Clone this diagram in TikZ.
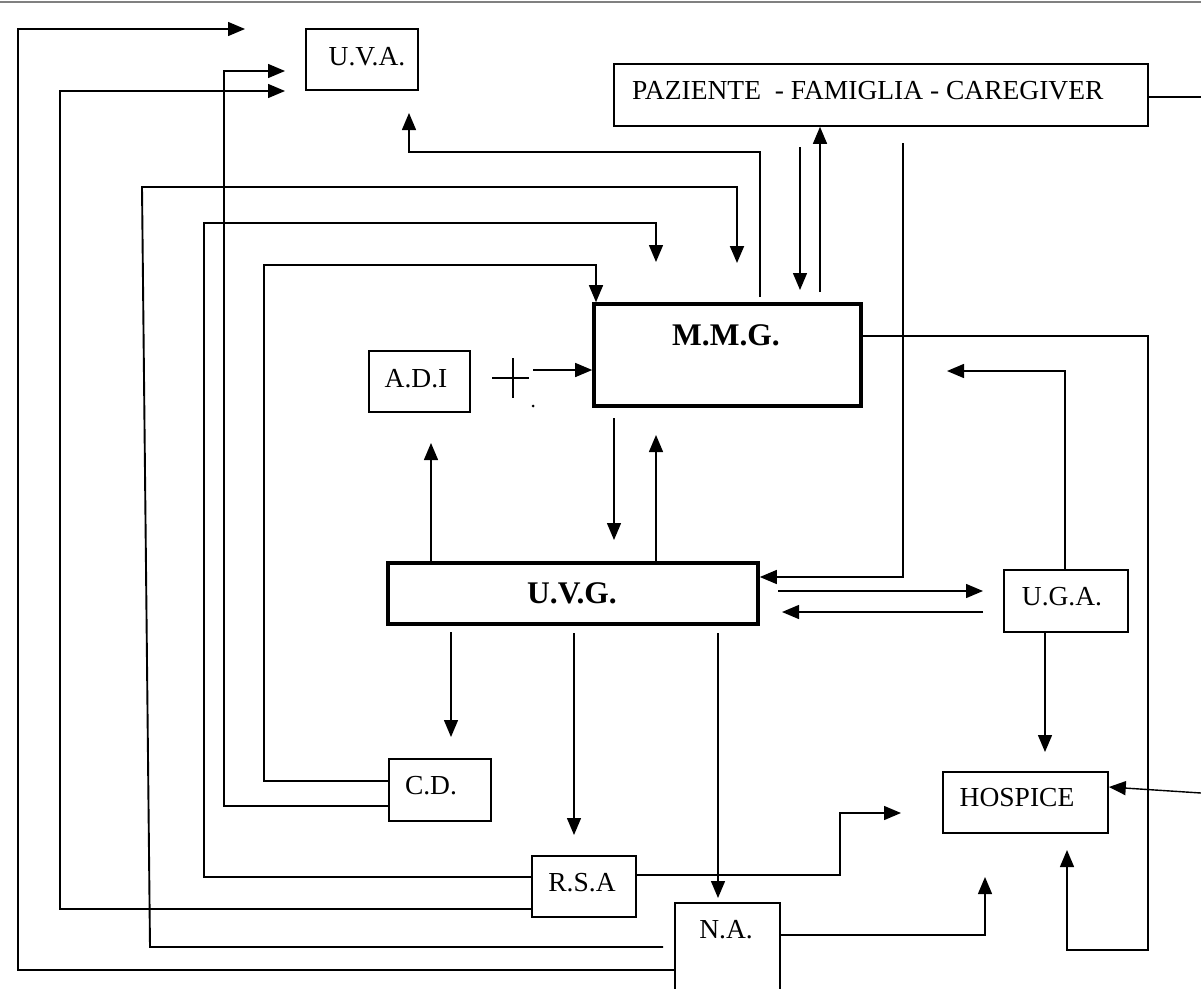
\documentclass[tikz,border=0pt]{standalone}
\usepackage{fontspec}
\setmainfont{Liberation Serif}
\usetikzlibrary{arrows.meta}
\begin{document}
\begin{tikzpicture}[x=1pt,y=-1pt,
  box/.style={draw, line width=1.6pt, inner sep=0pt, rectangle},
  thickbox/.style={draw, line width=3.6pt, inner sep=0pt, rectangle},
  txt/.style={anchor=base, inner sep=0pt, font=\fontsize{27.5}{30}\selectfont},
  btxt/.style={anchor=base, inner sep=0pt, font=\fontsize{31.5}{34}\selectfont\bfseries},
  conn/.style={line width=1.4pt},
  arr/.style={conn, -{Triangle[length=17pt,width=14pt]}},
]
\useasboundingbox (0,0) rectangle (1201,988);
\fill[white] (0,0) rectangle (1201,988);
\clip (0,0) rectangle (1201,988);
\draw[gray, line width=1.5pt] (0,2) -- (1201,2);

% boxes
\node[box, minimum width=112pt, minimum height=61pt] (uva) at (362,59.5) {};
\node[box, minimum width=534pt, minimum height=62pt] (paz) at (881,95) {};
\node[thickbox, minimum width=267pt, minimum height=102pt] (mmg) at (727.5,355) {};
\node[box, minimum width=101pt, minimum height=61pt] (adi) at (419.5,381.5) {};
\node[thickbox, minimum width=370pt, minimum height=61pt] (uvg) at (573,593.5) {};
\node[box, minimum width=124pt, minimum height=62pt] (uga) at (1066,601) {};
\node[box, minimum width=102pt, minimum height=62pt] (cd) at (440,790) {};
\node[box, minimum width=165pt, minimum height=61pt] (hosp) at (1025.5,802.5) {};
\node[box, minimum width=104pt, minimum height=61pt] (rsa) at (584,886.5) {};
\node[box, minimum width=105pt, minimum height=97pt] (na) at (727.5,951.5) {};

% texts
\node[txt] (uvat) at (367,65) {U.V.A.};
\node[txt, anchor=base west] (pazt) at (632,99) {PAZIENTE\ \ - FAMIGLIA - CAREGIVER};
\node[btxt] (mmgt) at (726,345) {M.M.G.};
\node[txt] (adit) at (416,387) {A.D.I};
\node[btxt] (uvgt) at (572,603) {U.V.G.};
\node[txt] (ugat) at (1062,605) {U.G.A.};
\node[txt] (cdt) at (431,794) {C.D.};
\node[txt] (hospt) at (1017,806) {HOSPICE};
\node[txt] (rsat) at (582,891) {R.S.A};
\node[txt] (nat) at (726,938) {N.A.};

% free ends
\coordinate (eA) at (245,29);
\coordinate (eB) at (285,91);
\coordinate (eC) at (285,71);
\coordinate (sD) at (663,947);
\coordinate (eD) at (737,263);
\coordinate (eE) at (656,262);
\coordinate (eUVA) at (409,113);
\coordinate (sUVA) at (760,297);
\coordinate (sPM) at (800,147);
\coordinate (ePM) at (800,290);
\coordinate (sMP) at (820,292);
\coordinate (sPU) at (903,143);
\coordinate (eUM) at (947,371);
\coordinate (eRH) at (901,813);
\coordinate (eNH) at (985,877);
\coordinate (eRight) at (1201,97);
\coordinate (sRight) at (1201,793);

% long loops on the left to U.V.A.
\draw[arr] (na.west |- 0,970) -- (18,970) -- (18,29) -- (eA);
\draw[arr] (rsa.west |- 0,909) -- (60,909) -- (60,91) -- (eB);
\draw[arr] (cd.west |- 0,806) -- (224,806) -- (224,71) -- (eC);

% loops to M.M.G.
\draw[arr, line width=1.9pt] (sD) -- (150,947) -- (142,187) -- (737,187) -- (eD);
\draw[arr] (rsa.west |- 0,877) -- (204,877) -- (204,223) -- (656,223) -- (eE);
\draw[arr] (cd.west |- 0,781) -- (264,781) -- (264,265) -- (596,265) -- (mmg.north west -| 596,0);

% M.M.G. to U.V.A.
\draw[arr] (sUVA) -- (760,152) -- (409,152) -- (eUVA);

% paziente <-> M.M.G.
\draw[arr] (sPM) -- (ePM);
\draw[arr] (sMP) -- (paz.south -| 820,0);

% paziente -> U.V.G.
\draw[arr] (sPU) -- (903,577) -- (uvg.east |- 0,577);

% U.V.G. <-> U.G.A.
\draw[arr] (778,591) -- (983,591);
\draw[arr] (983,612) -- (782,612);

% U.G.A. up to M.M.G. side
\draw[arr] (uga.north -| 1065,0) -- (1065,371) -- (eUM);

% M.M.G. right loop to HOSPICE bottom
\draw[arr] (mmg.east |- 0,336) -- (1148,336) -- (1148,950) -- (1067,950) -- (1067,850);

% U.G.A. -> HOSPICE
\draw[arr] (uga.south -| 1045,0) -- (1045,752);

% paziente right exit, external arrow into HOSPICE
\draw[conn] (paz.east |- 0,97) -- (eRight);
\draw[arr] (sRight) -- (hosp.east |- 0,787);

% A.D.I -> M.M.G.
\draw[conn] (492,378) -- (529,378);
\draw[conn] (513,358) -- (513,398);
\fill (533,406) circle (1.5);
\draw[arr] (533,370) -- (mmg.west |- 0,370);

% U.V.G. -> A.D.I
\draw[arr] (uvg.north -| 431,0) -- (431,443);

% M.M.G. <-> U.V.G.
\draw[arr] (614,418) -- (614,540);
\draw[arr] (uvg.north -| 656,0) -- (656,435);

% U.V.G. down
\draw[arr] (451,632) -- (451,737);
\draw[arr] (574,633) -- (574,835);
\draw[arr] (718,633) -- (718,898);

% R.S.A and N.A. -> HOSPICE
\draw[arr] (rsa.east |- 0,875) -- (840,875) -- (840,813) -- (eRH);
\draw[arr] (na.east |- 0,935) -- (985,935) -- (eNH);
\end{tikzpicture}
\end{document}
